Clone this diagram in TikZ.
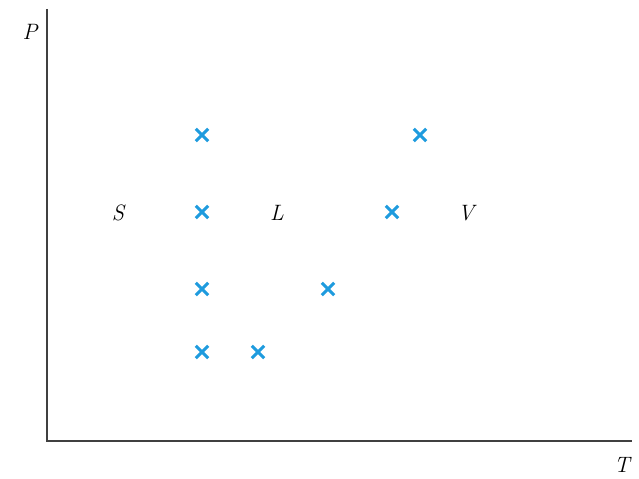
\documentclass[tikz,border=0pt]{standalone}
\usepackage{amsmath}
\usetikzlibrary{shapes.misc}
\definecolor{markblue}{RGB}{30,155,222}
\tikzset{
  pt/.style={cross out, draw=markblue, line width=2.6pt, minimum size=8pt, inner sep=0pt},
  lbl/.style={font=\fontsize{19}{21}\selectfont\itshape}
}

\begin{document}
\begin{tikzpicture}[x=0.03cm, y=0.03cm]
      \useasboundingbox (0,0) rectangle (639,479);
      \coordinate (o) at (47,38);
      \coordinate (ytop) at (47,470);
      \coordinate (xend) at (632,38);
      \draw[line width=1.5pt, black!75] (ytop) -- (o) -- (xend);
      \node[lbl] (p) at (30,447) {P};
      \node[lbl] (t) at (622,14) {T};
      \node[lbl] (s) at (118,266) {S};
      \node[lbl] (l) at (277,266) {L};
      \node[lbl] (v) at (466,266) {V};
      \foreach \i/\x/\y in {1/202/344, 2/420/344, 3/202/267, 4/392/267,
                            5/202/190, 6/328/190, 7/202/127, 8/258/127} {
	\node[pt] (m\i) at (\x,\y) {};
      };
    \end{tikzpicture}
\end{document}
